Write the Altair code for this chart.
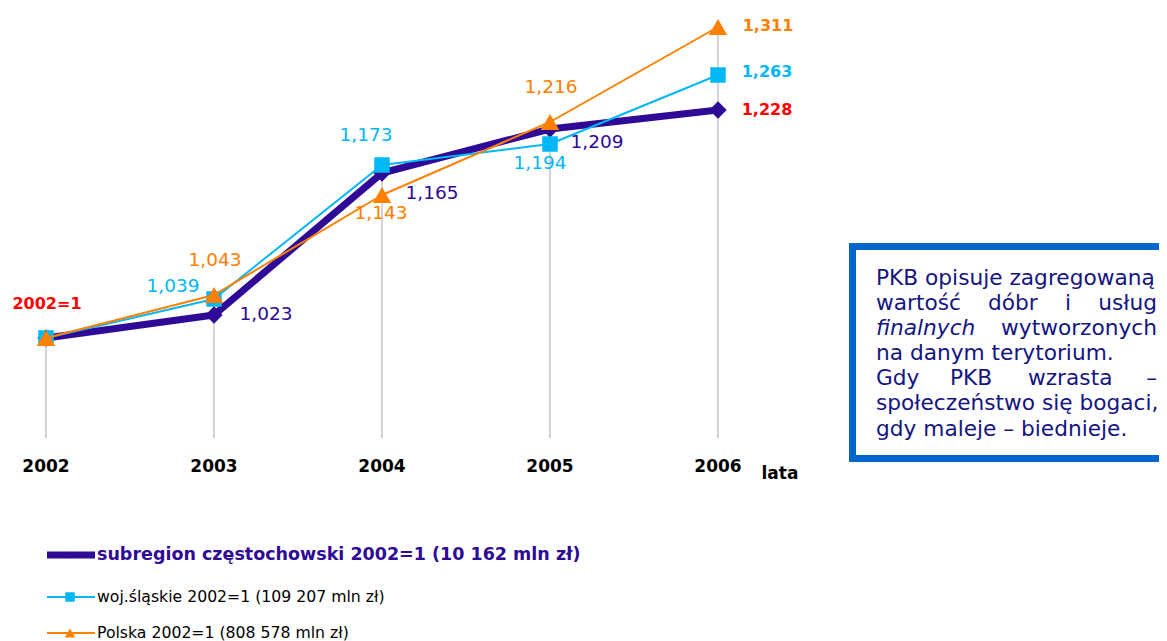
import altair as alt
import pandas as pd

YEARS = [2002, 2003, 2004, 2005, 2006]
SUBREGION = [1.000, 1.023, 1.165, 1.209, 1.228]
SLASKIE = [1.000, 1.039, 1.173, 1.194, 1.263]
POLSKA = [1.000, 1.043, 1.143, 1.216, 1.311]
SERIES = [
    "subregion częstochowski 2002=1 (10 162 mln zł)",
    "woj.śląskie 2002=1 (109 207 mln zł)",
    "Polska 2002=1 (808 578 mln zł)",
]
VALUES = [SUBREGION, SLASKIE, POLSKA]
BASE_LABEL = "2002=1"
X_TITLE = "lata"
BOX_LINES = [
    ["PKB opisuje zagregowaną"],
    ["wartość", "dóbr", "i", "usług"],
    ["finalnych", "wytworzonych"],
    ["na danym terytorium."],
    ["Gdy", "PKB", "wzrasta", "–"],
    ["społeczeństwo się bogaci,"],
    ["gdy maleje – biednieje."],
]

FONT = "DejaVu Sans"
PURPLE = "#2E0A96"
BLUE = "#00B8F5"
ORANGE = "#FF8000"
RED = "#FF0000"
NAVY = "#15157F"
BOXBLUE = "#0066CC"
COLORS = [PURPLE, BLUE, ORANGE]

rows = []
for s, vals in zip(SERIES, VALUES):
    for yr, v in zip(YEARS, vals):
        rows.append({"series": s, "year": yr, "value": v,
                     "label": f"{v:.3f}".replace(".", ",")})
df = pd.DataFrame(rows)

W, H = 1151, 633
xs = alt.Scale(domain=[2002 - 38 / 168, 2002 - 38 / 168 + W / 168], nice=False, zero=False)
ys = alt.Scale(domain=[1.33 - H / 1000, 1.33], nice=False, zero=False)
X = alt.X("year:Q", scale=xs, axis=None)
Y = alt.Y("value:Q", scale=ys, axis=None)

layers = []

# drop lines from the highest point of each year
layers.append(
    alt.Chart(df).transform_aggregate(maxv="max(value)", groupby=["year"])
    .transform_calculate(base="0.9")
    .mark_rule(color="#D4D4D4", strokeWidth=2)
    .encode(x=X, y=alt.Y("maxv:Q", scale=ys, axis=None), y2="base:Q")
)

line_w = [7, 2, 2]
shapes = ["diamond", "square", "triangle-up"]
sizes = [300, 240, 340]
for s, c, lw, sh, sz in zip(SERIES, COLORS, line_w, shapes, sizes):
    base = alt.Chart(df).transform_filter(alt.datum.series == s)
    layers.append(base.mark_line(color=c, strokeWidth=lw, strokeJoin="round").encode(x=X, y=Y))
    layers.append(base.mark_point(shape=sh, size=sz, filled=True, opacity=1, color=c).encode(x=X, y=Y))

# value labels: (series index, year, dx, dy, bold, color)
LABEL_POS = [
    (0, 2003, 52, -1, False, PURPLE),
    (1, 2003, -41, -13, False, BLUE),
    (2, 2003, 1, -35, False, ORANGE),
    (1, 2004, -16, -30, False, BLUE),
    (0, 2004, 50, 20, False, PURPLE),
    (2, 2004, -1, 18, False, ORANGE),
    (2, 2005, 1, -35, False, ORANGE),
    (0, 2005, 47, 13, False, PURPLE),
    (1, 2005, -10, 19, False, BLUE),
    (2, 2006, 50, -1, True, ORANGE),
    (1, 2006, 49, -3, True, BLUE),
    (0, 2006, 49, 0, True, RED),
]
for si, yr, dx, dy, bold, col in LABEL_POS:
    layers.append(
        alt.Chart(df)
        .transform_filter((alt.datum.series == SERIES[si]) & (alt.datum.year == yr))
        .mark_text(dx=dx, dy=dy, font=FONT, fontSize=16 if bold else 18.5,
                   fontWeight="bold" if bold else "normal", color=col, align="center", baseline="middle")
        .encode(x=X, y=Y, text="label:N")
    )

# 2002=1 annotation
layers.append(
    alt.Chart(pd.DataFrame({"year": [YEARS[0]], "value": [SUBREGION[0]], "t": [BASE_LABEL]}))
    .mark_text(dx=1, dy=-34, font=FONT, fontSize=16, fontWeight="bold", color=RED, baseline="middle")
    .encode(x=X, y=Y, text="t:N")
)

# year labels
layers.append(
    alt.Chart(pd.DataFrame({"year": YEARS}))
    .mark_text(font=FONT, fontSize=17, fontWeight="bold", color="black", baseline="middle")
    .encode(x=X, y=alt.value(459), text="year:N")
)
layers.append(
    alt.Chart(pd.DataFrame({"t": [X_TITLE]}))
    .mark_text(font=FONT, fontSize=17, fontWeight="bold", color="black", baseline="middle")
    .encode(x=alt.value(772), y=alt.value(466), text="t:N")
)

# legend
leg_y = [547, 589, 625]
leg_bold = [True, False, False]
leg_col = [PURPLE, "black", "black"]
leg_sz = [40, 90, 110]
leg_fs = [17.5, 15.7, 15.7]
for i, s in enumerate(SERIES):
    d = pd.DataFrame({"t": [s]})
    layers.append(alt.Chart(d).mark_rule(color=COLORS[i], strokeWidth=line_w[i])
                  .encode(x=alt.value(39), x2=alt.value(87), y=alt.value(leg_y[i])))
    layers.append(alt.Chart(d).mark_point(shape=shapes[i], size=leg_sz[i], filled=True, opacity=1, color=COLORS[i])
                  .encode(x=alt.value(62), y=alt.value(leg_y[i])))
    layers.append(alt.Chart(d).mark_text(font=FONT, fontSize=leg_fs[i], fontWeight="bold" if leg_bold[i] else "normal",
                                         color=leg_col[i], align="left", baseline="middle")
                  .encode(x=alt.value(89), y=alt.value(leg_y[i]), text="t:N"))

# text box: border drawn as three rules (open to the right edge)
box = pd.DataFrame({"t": ["box"]})
layers.append(alt.Chart(box).mark_rule(color=BOXBLUE, strokeWidth=7)
              .encode(x=alt.value(844.5), x2=alt.value(1160), y=alt.value(238.5)))
layers.append(alt.Chart(box).mark_rule(color=BOXBLUE, strokeWidth=7)
              .encode(x=alt.value(844.5), x2=alt.value(1160), y=alt.value(450.5)))
layers.append(alt.Chart(box).mark_rule(color=BOXBLUE, strokeWidth=7)
              .encode(x=alt.value(844.5), y=alt.value(235), y2=alt.value(454)))
line_y = [270, 295, 320, 345, 370, 395, 421]
word_x = {
    1: [(868, "left"), (980, "left"), (1057, "left"), (1149, "right")],
    2: [(868, "left"), (1149, "right")],
    4: [(868, "left"), (942, "left"), (1020, "left"), (1149, "right")],
}
for li, words in enumerate(BOX_LINES):
    pos = word_x.get(li, [(868, "left")])
    for (px, al), w in zip(pos, words):
        style = "italic" if w == "finalnych" else "normal"
        layers.append(
            alt.Chart(pd.DataFrame({"t": [w]}))
            .mark_text(font=FONT, fontSize=21.7, fontStyle=style, color=NAVY, align=al, baseline="middle")
            .encode(x=alt.value(px), y=alt.value(line_y[li]), text="t:N")
        )

chart = alt.layer(*layers).properties(
    width=W, height=H, autosize=alt.AutoSizeParams(type="none"), padding=0, background="white"
).configure_view(stroke=None)

chart.save("out.html", embed_options={"renderer": "svg", "actions": False})
